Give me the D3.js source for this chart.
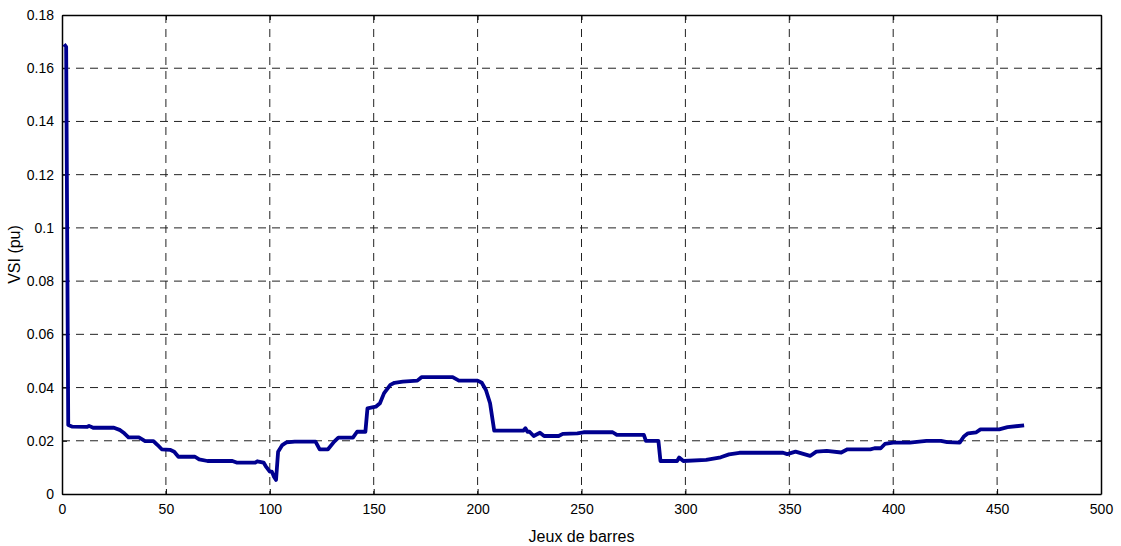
<!DOCTYPE html>
<html>
<head>
<meta charset="utf-8">
<script src="https://cdn.jsdelivr.net/npm/d3@7"></script>
<style>
  body { margin: 0; background: #fff; }
  text { font-family: "Liberation Sans Narrow", "Liberation Sans", Arial, sans-serif; }
</style>
</head>
<body>
<div id="chart"></div>
<script>
const margin = { top: 15, right: 20, bottom: 52, left: 62 };
const width = 1101 - margin.left;
const height = 494 - margin.top;

// bus index and VSI value (pu)
const bus = [1, 2, 3, 5, 12, 13, 15, 25, 28, 30, 32, 37, 40, 44, 46, 48, 52, 54, 56, 64,
  66, 70, 82, 84, 93, 94, 97, 98, 100, 101, 102, 103, 104, 106, 108, 112, 122, 124, 128, 131,
  133, 140, 142, 146, 147, 151, 153, 155, 158, 160, 164, 171, 173, 188, 191, 200, 202, 204, 206, 208,
  222, 223, 224, 225, 227, 230, 232, 239, 241, 248, 251, 265, 267, 280, 281, 287, 288, 296, 297, 299,
  310, 317, 321, 326, 347, 349, 353, 360, 363, 368, 375, 378, 389, 391, 394, 396, 400, 408, 416, 423,
  426, 432, 434, 436, 440, 442, 451, 455, 463];
const vsi = [0.169, 0.168, 0.0259, 0.0253, 0.0252, 0.0256, 0.0249, 0.0249, 0.0240, 0.0228, 0.0213, 0.0213, 0.0199, 0.0199, 0.0184, 0.0168, 0.0166, 0.0159, 0.0140, 0.0140,
  0.0130, 0.0124, 0.0124, 0.0118, 0.0118, 0.0123, 0.0118, 0.0105, 0.0084, 0.0084, 0.0065, 0.0053, 0.0159, 0.0184, 0.0194, 0.0197, 0.0197, 0.0168, 0.0168, 0.0197,
  0.0212, 0.0212, 0.0234, 0.0234, 0.0322, 0.0328, 0.0341, 0.0379, 0.0410, 0.0418, 0.0422, 0.0426, 0.0439, 0.0439, 0.0426, 0.0426, 0.0418, 0.0391, 0.0341, 0.0238,
  0.0238, 0.0247, 0.0234, 0.0234, 0.0218, 0.0230, 0.0218, 0.0218, 0.0226, 0.0228, 0.0232, 0.0232, 0.0222, 0.0222, 0.0200, 0.0200, 0.0124, 0.0124, 0.0137, 0.0124,
  0.0128, 0.0138, 0.0149, 0.0155, 0.0155, 0.0150, 0.0159, 0.0143, 0.0159, 0.0162, 0.0156, 0.0168, 0.0168, 0.0172, 0.0172, 0.0188, 0.0193, 0.0193, 0.0200, 0.0200,
  0.0195, 0.0193, 0.0216, 0.0228, 0.0232, 0.0243, 0.0243, 0.0251, 0.0258];

const xTicks = [0, 50, 100, 150, 200, 250, 300, 350, 400, 450, 500];
const yTicks = [0, 0.02, 0.04, 0.06, 0.08, 0.1, 0.12, 0.14, 0.16, 0.18];

const svg = d3.select("#chart")
    .append("svg")
    .attr("width", 1121)
    .attr("height", 546)
    .append("g")
    .attr("transform", `translate(${margin.left},${margin.top})`);

const x = d3.scaleLinear().domain([0, 500]).range([0, width]);
const y = d3.scaleLinear().domain([0, 0.18]).range([height, 0]);

// dashed grid
svg.append("g")
    .selectAll("line")
    .data(xTicks.slice(1, -1))
    .enter()
    .append("line")
    .attr("x1", d => x(d)).attr("x2", d => x(d))
    .attr("y1", 0).attr("y2", height)
    .attr("stroke", "#222").attr("stroke-width", 1)
    .attr("stroke-dasharray", "8,6");

svg.append("g")
    .selectAll("line")
    .data(yTicks.slice(1, -1))
    .enter()
    .append("line")
    .attr("y1", d => y(d)).attr("y2", d => y(d))
    .attr("x1", 0).attr("x2", width)
    .attr("stroke", "#222").attr("stroke-width", 1)
    .attr("stroke-dasharray", "8,6");

// axes with inward ticks
svg.append("g")
    .attr("transform", `translate(0,${height})`)
    .call(d3.axisBottom(x).tickValues(xTicks).tickSizeInner(-5).tickSizeOuter(0).tickPadding(10));
svg.append("g")
    .call(d3.axisLeft(y).tickValues(yTicks).tickFormat(d => d3.format("")(+d.toFixed(2))).tickSizeInner(-5).tickSizeOuter(0).tickPadding(8));

svg.append("g")
    .attr("transform", `translate(${width},0)`)
    .call(d3.axisRight(y).tickValues(yTicks).tickSizeInner(-5).tickSizeOuter(0).tickFormat(""));
svg.append("g")
    .call(d3.axisTop(x).tickValues(xTicks).tickSizeInner(-5).tickSizeOuter(0).tickFormat(""));

svg.selectAll(".domain").attr("stroke", "#000").attr("stroke-width", 1.5);
svg.selectAll(".tick line").attr("stroke", "#000");
svg.selectAll(".tick text").attr("font-size", 14).attr("fill", "#000")
    .style("font-family", "'Liberation Sans Narrow', 'Liberation Sans', Arial, sans-serif");

// the VSI curve
const line = d3.line()
    .x((d, i) => x(bus[i]))
    .y(d => y(d));

svg.append("path")
    .datum(vsi)
    .attr("fill", "none")
    .attr("stroke", "#00008f")
    .attr("stroke-width", 3.8)
    .attr("stroke-linejoin", "round")
    .attr("d", line);

// axis titles
svg.append("text")
    .attr("x", width / 2)
    .attr("y", height + 48)
    .attr("text-anchor", "middle")
    .attr("font-size", 16)
    .text("Jeux de barres");

svg.append("text")
    .attr("transform", `translate(-42,${height / 2}) rotate(-90)`)
    .attr("text-anchor", "middle")
    .attr("font-size", 16)
    .text("VSI (pu)");
</script>
</body>
</html>
